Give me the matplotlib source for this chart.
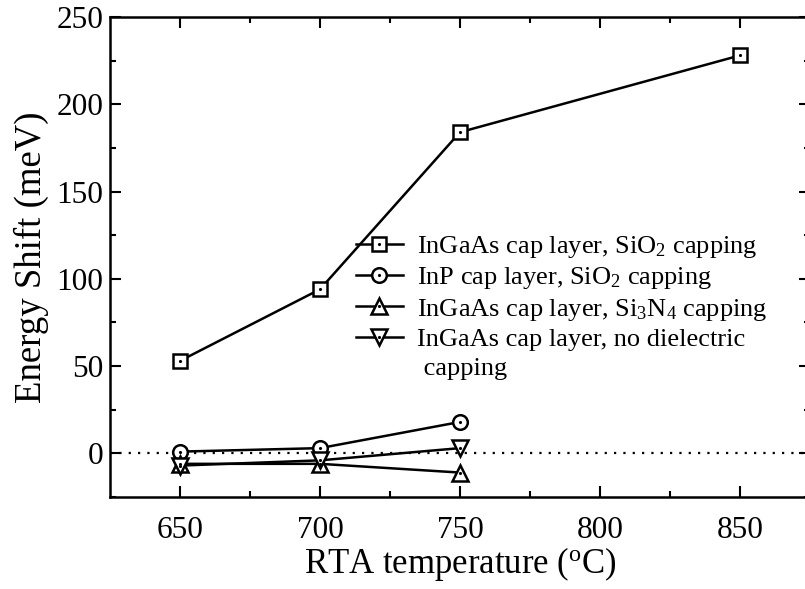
import matplotlib
matplotlib.use("Agg")
import matplotlib.pyplot as plt
from matplotlib.lines import Line2D
from matplotlib.legend_handler import HandlerTuple

plt.rcParams['font.family'] = ['Liberation Serif', 'DejaVu Serif']
plt.rcParams['mathtext.fontset'] = 'custom'
plt.rcParams['mathtext.rm'] = 'Liberation Serif'
plt.rcParams['mathtext.it'] = 'Liberation Serif:italic'
plt.rcParams['mathtext.default'] = 'regular'

# ---- data ----
temps_sq = [650, 700, 750, 850]
shift_sq = [53, 94, 184, 228]          # InGaAs cap, SiO2
temps_small = [650, 700, 750]
shift_circ = [1, 3, 18]                # InP cap, SiO2
shift_up = [-6, -6, -11]               # InGaAs cap, Si3N4
shift_down = [-7, -4, 3]               # InGaAs cap, no dielectric

labels = ["InGaAs cap layer, SiO$_2$ capping",
          "InP cap layer, SiO$_2$ capping",
          "InGaAs cap layer, Si$_3$N$_4$ capping",
          "InGaAs cap layer, no dielectric",
          " capping"]
xticks = [650, 700, 750, 800, 850]
yticks = [0, 50, 100, 150, 200, 250]

fig = plt.figure(figsize=(8.05, 5.89), dpi=100)
ax = fig.add_axes([110/805, (589-497)/589, 700/805, 480/589])

ax.axhline(0, color='black', lw=1.6, ls=(0, (1, 3.2)), zorder=1)

series = [(temps_sq, shift_sq, 's', 9.5),
          (temps_small, shift_circ, 'o', 10.5),
          (temps_small, shift_up, '^', 11.5),
          (temps_small, shift_down, 'v', 11.5)]
handles = []
for xs, ys, m, ms in series:
    ln, = ax.plot(xs, ys, color='black', lw=1.8, marker=m, ms=ms,
                  mfc='white', mec='black', mew=1.8, zorder=3)
    dot, = ax.plot(xs, ys, ls='none', marker='.', ms=2.5, color='black', zorder=4)
    handles.append((ln, dot))

blank = Line2D([], [], ls='none', marker=None)
handles.append(blank)

leg = ax.legend(handles, labels, loc='upper left', bbox_to_anchor=(0.352, 0.548),
                frameon=False, fontsize=19, handlelength=1.75, handletextpad=0.55,
                labelspacing=0.2, borderpad=0, borderaxespad=0,
                handler_map={tuple: HandlerTuple(ndivide=1, pad=0)})

ax.set_xlim(625, 875)
ax.set_ylim(-25, 250)
ax.set_xticks(xticks)
ax.set_yticks(yticks)
ax.set_xticks([675, 725, 775, 825], minor=True)
ax.set_yticks([-25, 25, 75, 125, 175, 225], minor=True)
ax.tick_params(which='both', direction='in', top=True, right=True, width=1.5,
               labelsize=22.5)
ax.tick_params(axis='x', which='both', pad=14)
ax.tick_params(axis='y', which='both', pad=5)
ax.tick_params(which='major', length=8)
ax.tick_params(which='minor', length=4)
for s in ax.spines.values():
    s.set_linewidth(1.8)

ax.set_xlabel("RTA temperature ($^{o}$C)", fontsize=25, labelpad=0)
ax.set_ylabel("Energy Shift (meV)", fontsize=26.5, labelpad=5)

fig.savefig("out.png", dpi=100)
